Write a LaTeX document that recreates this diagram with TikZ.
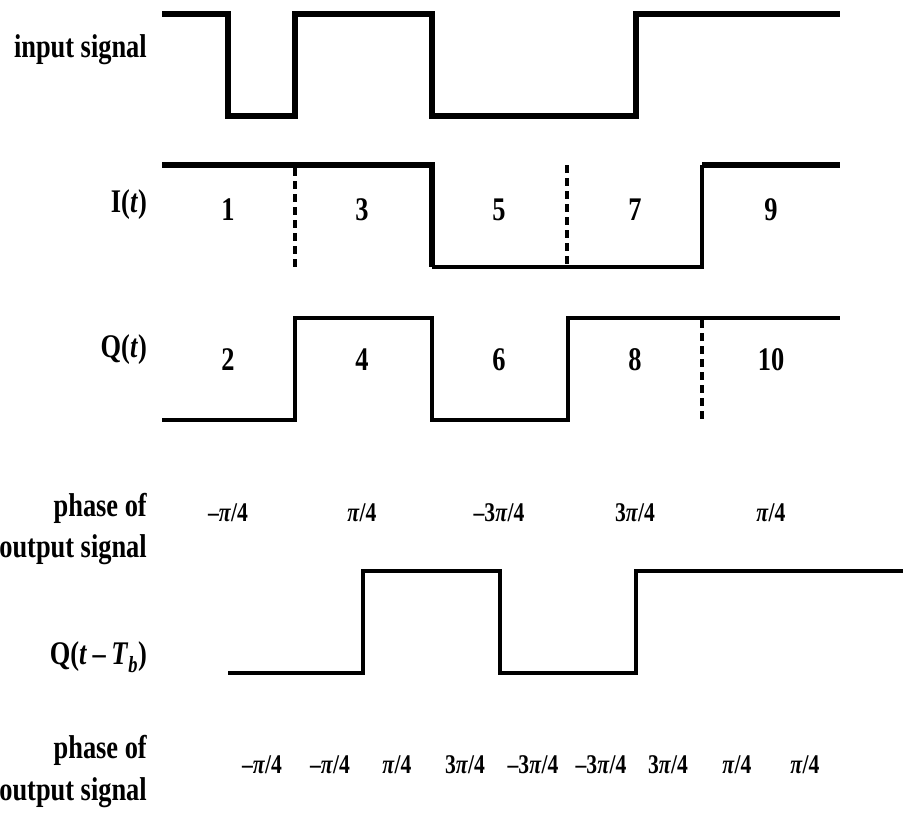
\documentclass[tikz,border=0pt]{standalone}
\usepackage{fontspec}
\setmainfont[FakeStretch=0.8]{Liberation Serif}
\begin{document}
\begin{tikzpicture}[x=1pt,y=-1pt,
  sig/.style={line width=4.5pt,line join=miter},
  sigbold/.style={line width=5.5pt,line join=miter},
  sigthin/.style={line width=3.5pt,line join=miter},
  dsh/.style={line width=3.5pt,dash pattern=on 8pt off 5pt},
  lab/.style={anchor=east,font=\fontsize{33}{33}\selectfont\bfseries,inner sep=0pt},
  num/.style={font=\fontsize{33}{33}\selectfont\bfseries,inner sep=0pt},
  ph/.style={font=\fontsize{27}{27}\selectfont\bfseries,inner sep=0pt}]
\useasboundingbox (0,0) rectangle (903,822);
% labels
\node[lab] (lin) at (147,50) {input signal};
\node[lab] (lI) at (147,205) {I(\textit{t})};
\node[lab] (lQ) at (147,350) {Q(\textit{t})};
\node[lab] (lp1a) at (147,508) {phase of};
\node[lab] (lp1b) at (147,550) {output signal};
\node[lab] (lQd) at (147,657) {Q(\textit{t}\,–\,\textit{T}\textsubscript{\textit{b}})};
\node[lab] (lp2a) at (147,750) {phase of};
\node[lab] (lp2b) at (147,793) {output signal};
% input signal
\draw[sigbold] (162,14) -- (228,14) -- (228,116) -- (295,116) -- (295,14) -- (432,14) -- (432,116) -- (636,116) -- (636,14) -- (840,14);
% I(t)
\draw[sigbold] (162,165) -- (432,165) -- (432,267);
\draw[sigthin] (432,267) -- (702,267) -- (702,165);
\draw[sigbold] (702,165) -- (840,165);
\draw[dsh] (295,168) -- (295,267);
\draw[dsh] (567,165) -- (567,265);
\node[num] (n1) at (228,210) {1};
\node[num] (n3) at (362,210) {3};
\node[num] (n5) at (499,210) {5};
\node[num] (n7) at (635,210) {7};
\node[num] (n9) at (771,210) {9};
% Q(t)
\draw[sig] (162,420) -- (295,420) -- (295,318) -- (432,318) -- (432,420) -- (568,420) -- (568,318) -- (840,318);
\draw[dsh] (702,320) -- (702,422);
\node[num] (n2) at (228,360) {2};
\node[num] (n4) at (362,360) {4};
\node[num] (n6) at (499,360) {6};
\node[num] (n8) at (635,360) {8};
\node[num] (n10) at (771,360) {10};
% phase row 1
\node[ph] (p1) at (228,513) {–\textit{π}/4};
\node[ph] (p2) at (362,513) {\textit{π}/4};
\node[ph] (p3) at (499,513) {–3\textit{π}/4};
\node[ph] (p4) at (635,513) {3\textit{π}/4};
\node[ph] (p5) at (771,513) {\textit{π}/4};
% Q(t-Tb)
\draw[sig] (228,673) -- (363,673) -- (363,571) -- (500,571) -- (500,673) -- (636,673) -- (636,571) -- (903,571);
% phase row 2
\node[ph] (r1) at (262,765) {–\textit{π}/4};
\node[ph] (r2) at (330,765) {–\textit{π}/4};
\node[ph] (r3) at (397,765) {\textit{π}/4};
\node[ph] (r4) at (465,765) {3\textit{π}/4};
\node[ph] (r5) at (533,765) {–3\textit{π}/4};
\node[ph] (r6) at (601,765) {–3\textit{π}/4};
\node[ph] (r7) at (668,765) {3\textit{π}/4};
\node[ph] (r8) at (737,765) {\textit{π}/4};
\node[ph] (r9) at (805,765) {\textit{π}/4};
\end{tikzpicture}
\end{document}
